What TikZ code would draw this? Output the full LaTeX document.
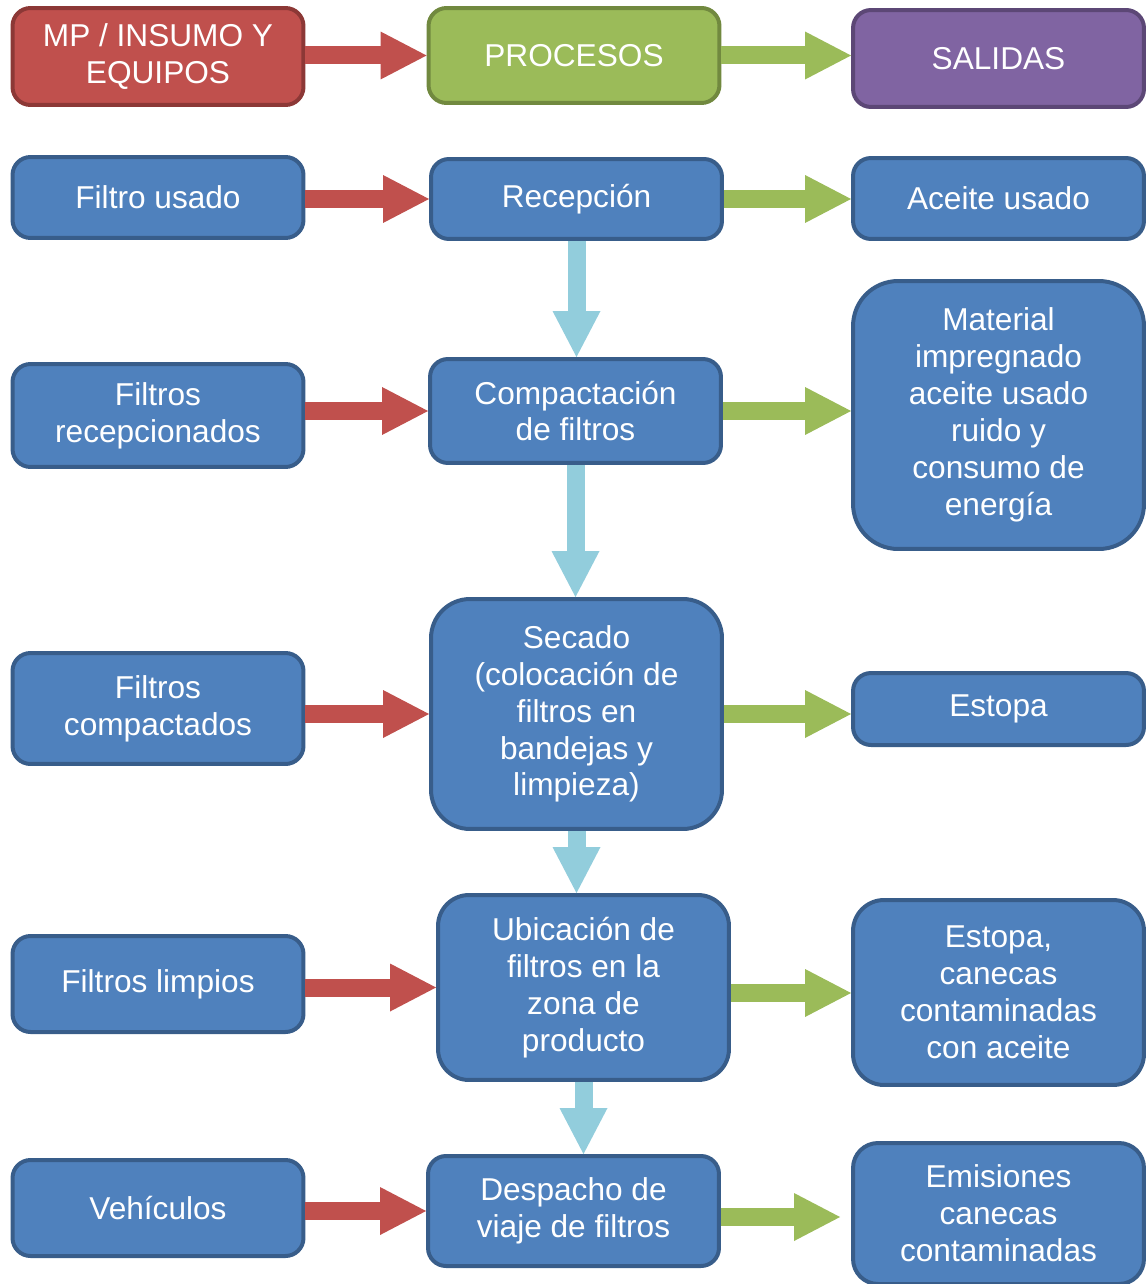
\documentclass[tikz,border=0pt]{standalone}
\usepackage{fontspec}
\setmainfont{Liberation Sans}
\usetikzlibrary{arrows.meta}
\definecolor{azul}{HTML}{4F81BD}
\definecolor{azulborde}{HTML}{385D8A}
\definecolor{rojo}{HTML}{C0504D}
\definecolor{rojoborde}{HTML}{8C3836}
\definecolor{verde}{HTML}{9BBB59}
\definecolor{verdeborde}{HTML}{71893F}
\definecolor{morado}{HTML}{8064A2}
\definecolor{moradoborde}{HTML}{5C4776}
\definecolor{celeste}{HTML}{92CDDC}
\tikzset{
  caja/.style={draw=azulborde, fill=azul, line width=0.08cm, rounded corners=#1,
    text=white, align=center, inner sep=0pt, minimum width=5.82cm,
    font=\fontsize{18}{21}\selectfont},
  caja/.default=0.36cm,
  flecha/.style={line width=0.36cm, -{Triangle[length=0.92cm,width=0.96cm,line width=0pt]}},
  flecharoja/.style={flecha, draw=rojo, fill=rojo},
  flechaverde/.style={flecha, draw=verde, fill=verde},
  flechaazul/.style={flecha, draw=celeste, fill=celeste}
}
\begin{document}
\begin{tikzpicture}[x=0.02cm,y=-0.02cm]
\useasboundingbox (0,0) rectangle (1146,1284);
\node[caja, fill=rojo, draw=rojoborde, minimum height=1.94cm] (mp) at (158,56.5) {MP / INSUMO Y\\EQUIPOS};
\node[caja, fill=verde, draw=verdeborde, minimum height=1.9cm] (proc) at (574,55.5) {PROCESOS};
\node[caja, fill=morado, draw=moradoborde, minimum height=1.94cm] (sal) at (998.5,58.5) {SALIDAS};

\node[caja, minimum height=1.62cm] (fusado) at (158,197.5) {Filtro usado};
\node[caja, minimum height=2.06cm] (frecep) at (158,415.5) {Filtros\\recepcionados};
\node[caja, minimum height=2.22cm] (fcomp) at (158,708.5) {Filtros\\compactados};
\node[caja, minimum height=1.92cm] (flimp) at (158,984) {Filtros limpios};
\node[caja, minimum height=1.92cm] (vehic) at (158,1208) {Vehículos};

\node[caja, minimum height=1.6cm] (recep) at (576.5,199) {Recepción};
\node[caja, minimum height=2.08cm] (compac) at (575.5,411) {Compactación\\de filtros};
\node[caja=0.78cm, minimum height=4.6cm] (secado) at (576.5,714) {Secado\\(colocación de\\filtros en\\bandejas y\\limpieza)};
\node[caja=0.62cm, minimum height=3.7cm] (ubic) at (583.5,987.5) {Ubicación de\\filtros en la\\zona de\\producto};
\node[caja, minimum height=2.2cm] (desp) at (573.5,1211) {Despacho de\\viaje de filtros};

\node[caja, minimum height=1.62cm] (aceite) at (998.5,198.5) {Aceite usado};
\node[caja=0.9cm, minimum height=5.36cm] (mater) at (998.5,415) {Material\\impregnado\\aceite usado\\ruido y\\consumo de\\energía};
\node[caja, minimum height=1.44cm] (estopa) at (998.5,709) {Estopa};
\node[caja=0.62cm, minimum height=3.7cm] (canecas) at (998.5,992.5) {Estopa,\\canecas\\contaminadas\\con aceite};
\node[caja=0.5cm, minimum height=2.82cm] (emis) at (998.5,1213.5) {Emisiones\\canecas\\contaminadas};

\draw[flecharoja] (mp.east |- proc.west) -- (proc.west);
\draw[flecharoja] (fusado.east |- recep.west) -- (recep.west);
\draw[flecharoja] (frecep.east |- compac.west) -- (compac.west);
\draw[flecharoja] (fcomp.east |- secado.west) -- (secado.west);
\draw[flecharoja] (flimp.east |- ubic.west) -- (ubic.west);
\draw[flecharoja] (vehic.east |- desp.west) -- (desp.west);

\draw[flechaverde] (proc.east) -- (proc.east -| sal.west);
\draw[flechaverde] (recep.east) -- (recep.east -| aceite.west);
\draw[flechaverde] (compac.east) -- (compac.east -| mater.west);
\draw[flechaverde] (secado.east) -- (secado.east -| estopa.west);
\draw[flechaverde] ([yshift=-0.11cm]ubic.east) -- ([yshift=-0.11cm]ubic.east -| canecas.west);
\draw[flechaverde, shorten >=0.22cm] ([yshift=-0.12cm]desp.east) -- ([yshift=-0.12cm]desp.east -| emis.west);

\draw[flechaazul] (recep.south) -- (recep.south |- compac.north);
\draw[flechaazul] (compac.south) -- (compac.south |- secado.north);
\draw[flechaazul] (secado.south) -- (secado.south |- ubic.north);
\draw[flechaazul] (ubic.south) -- (ubic.south |- desp.north);
\end{tikzpicture}
\end{document}
